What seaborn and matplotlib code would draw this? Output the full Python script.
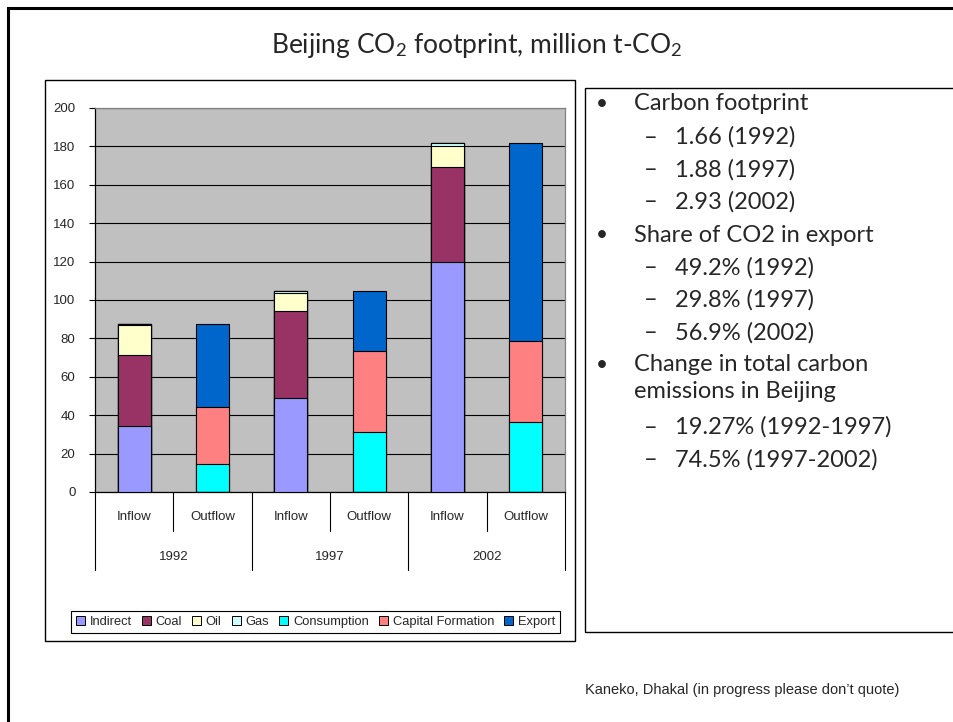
import matplotlib
matplotlib.use("Agg")
import matplotlib.pyplot as plt
import seaborn as sns
import pandas as pd
import numpy as np
from matplotlib.patches import Rectangle, Patch
from matplotlib.transforms import blended_transform_factory

# ---------------- data ----------------
bars = ["1992 Inflow", "1992 Outflow", "1997 Inflow", "1997 Outflow", "2002 Inflow", "2002 Outflow"]
flow_labels = ["Inflow", "Outflow", "Inflow", "Outflow", "Inflow", "Outflow"]
years = ["1992", "1997", "2002"]
series = ["Indirect", "Coal", "Oil", "Gas", "Consumption", "Capital Formation", "Export"]

indirect = [34.4, 0, 49.0, 0, 119.8, 0]
coal = [37.1, 0, 45.1, 0, 49.5, 0]
oil = [15.7, 0, 9.7, 0, 10.9, 0]
gas = [0.1, 0, 0.7, 0, 1.7, 0]
consumption = [0, 14.8, 0, 31.4, 0, 36.3]
capital_formation = [0, 29.6, 0, 42.0, 0, 42.1]
export = [0, 42.9, 0, 31.1, 0, 103.5]

colors = ["#9999FF", "#993366", "#FFFFCC", "#CCFFFF", "#00FFFF", "#FF8080", "#0066CC"]

yticks = [0, 20, 40, 60, 80, 100, 120, 140, 160, 180, 200]

bullets = [
    (1, "Carbon footprint"),
    (2, "1.66 (1992)"),
    (2, "1.88 (1997)"),
    (2, "2.93 (2002)"),
    (1, "Share of CO2 in export"),
    (2, "49.2% (1992)"),
    (2, "29.8% (1997)"),
    (2, "56.9% (2002)"),
    (1, "Change in total carbon"),
    (0, "emissions in Beijing"),
    (2, "19.27% (1992-1997)"),
    (2, "74.5% (1997-2002)"),
]

title = r"Beijing CO$_2$ footprint, million t-CO$_2$"
footer = "Kaneko, Dhakal (in progress please don\u2019t quote)"

# ---------------- styling ----------------
W, H = 954, 722
sns.set_style("white")
plt.rcParams["font.family"] = ["Liberation Sans Narrow", "Liberation Sans", "DejaVu Sans"]
plt.rcParams["mathtext.fontset"] = "custom"
plt.rcParams["mathtext.rm"] = "Lato"
plt.rcParams["mathtext.it"] = "Lato:italic"
plt.rcParams["mathtext.bf"] = "Lato:bold"

chart_font = ["Liberation Sans Narrow", "Liberation Sans", "DejaVu Sans"]
slide_font = ["Lato", "DejaVu Sans"]


def fx(px):
    return px / W


def fy(py):
    return 1 - py / H


fig = plt.figure(figsize=(W / 100, H / 100), dpi=100)
fig.patch.set_facecolor("white")

# slide border (top & left visible)
fig.add_artist(Rectangle((fx(8), fy(760)), (1000 - 8) / W, (760 - 8) / H,
                         transform=fig.transFigure, fill=False, ec="black", lw=2.2))
# chart area box
fig.add_artist(Rectangle((fx(45), fy(641)), (575 - 45) / W, (641 - 79.5) / H,
                         transform=fig.transFigure, fill=False, ec="black", lw=1.0))
# text box
fig.add_artist(Rectangle((fx(585), fy(632)), (965 - 585) / W, (632 - 88) / H,
                         transform=fig.transFigure, fill=False, ec="black", lw=1.0))

# ---------------- plot ----------------
ax = fig.add_axes([fx(95), fy(492), (565 - 95) / W, (492 - 108) / H])
ax.set_facecolor("#C0C0C0")

values = np.array([indirect, coal, oil, gas, consumption, capital_formation, export])
cum = np.cumsum(values, axis=0)
for i in reversed(range(len(series))):
    df = pd.DataFrame({"bar": bars, "value": cum[i]})
    sns.barplot(data=df, x="bar", y="value", order=bars, color=colors[i],
                saturation=1, width=0.42, edgecolor="black", linewidth=0.8,
                errorbar=None, ax=ax, zorder=3)

ax.set_xlim(-0.5, 5.5)
ax.set_ylim(0, 200)
ax.set_yticks(yticks)
ax.set_yticklabels([str(t) for t in yticks], fontsize=9.5, family=chart_font)
ax.set_xticks([])
ax.set_xlabel("")
ax.set_ylabel("")
ax.set_axisbelow(True)
ax.grid(axis="y", color="black", lw=0.8, zorder=0)
ax.grid(axis="x", visible=False)
ax.tick_params(axis="y", length=4, width=0.8, color="black", pad=10, left=True)
for s in ["left", "bottom"]:
    ax.spines[s].set_color("black")
    ax.spines[s].set_linewidth(0.9)
for s in ["top", "right"]:
    ax.spines[s].set_color("#808080")
    ax.spines[s].set_linewidth(0.9)

trans = blended_transform_factory(ax.transData, ax.transAxes)
ppx = 492 - 108


def ay(py):
    return (492 - py) / ppx


for k, lab in enumerate(flow_labels):
    ax.text(k, ay(517), lab, transform=trans, ha="center", va="center",
            fontsize=9.5, family=chart_font)
for j, yr in enumerate(years):
    ax.text(2 * j + 0.5, ay(557), yr, transform=trans, ha="center", va="center",
            fontsize=9.5, family=chart_font)
for xb in [0.5, 2.5, 4.5]:
    ax.plot([xb, xb], [0, ay(531)], transform=trans, color="black", lw=0.8, clip_on=False)
for xb in [-0.5, 1.5, 3.5, 5.5]:
    ax.plot([xb, xb], [0, ay(570)], transform=trans, color="black", lw=0.8, clip_on=False)

# legend
handles = [Patch(facecolor=c, edgecolor="black", linewidth=0.7) for c in colors]
leg = fig.legend(handles, series, loc="center", bbox_to_anchor=(fx(315.5), fy(622)),
                 ncol=7, frameon=True, fancybox=False, edgecolor="black", framealpha=1,
                 prop={"family": chart_font, "size": 9.3},
                 handlelength=0.7, handleheight=0.7, handletextpad=0.35,
                 columnspacing=0.8, borderpad=0.4, borderaxespad=0)
leg.get_frame().set_linewidth(0.8)

# title
fig.text(fx(477), fy(45), title, ha="center", va="center", fontsize=19, family=slide_font)

# text box content
ypos = [104, 137, 170, 202, 235, 268, 300, 333, 365, 392, 427, 460]
for (lvl, txt), yp in zip(bullets, ypos):
    if lvl == 1:
        fig.text(fx(596), fy(yp), "\u2022", ha="left", va="center", fontsize=15, family=slide_font)
        fig.text(fx(634), fy(yp), txt, ha="left", va="center", fontsize=17, family=slide_font)
    elif lvl == 0:
        fig.text(fx(634), fy(yp), txt, ha="left", va="center", fontsize=17, family=slide_font)
    else:
        fig.text(fx(644), fy(yp), "\u2013", ha="left", va="center", fontsize=17, family=slide_font)
        fig.text(fx(675), fy(yp), txt, ha="left", va="center", fontsize=17, family=slide_font)

# footer
fig.text(fx(742), fy(690), footer, ha="center", va="center", fontsize=10.5, family=chart_font)

fig.savefig("out.png", dpi=100, facecolor="white")
